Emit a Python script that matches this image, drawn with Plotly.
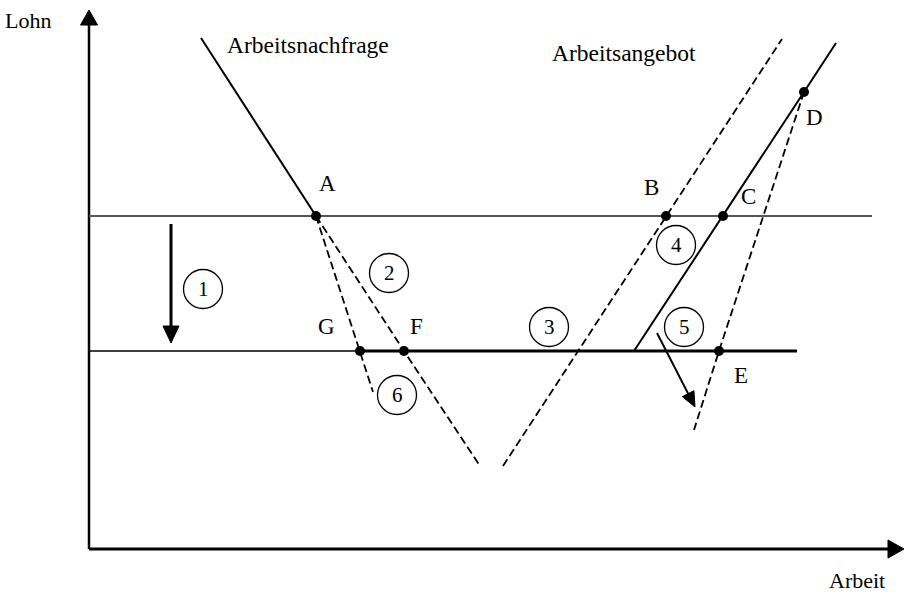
import numpy as np
import plotly.graph_objects as go

# ---------------- data (schematic units) ----------------
wage_high = 33.3          # upper wage level
wage_low = 19.8           # lower wage level
upper_line_end = 78.3
lower_line_end = 70.8

demand_solid_x = [11.2, 22.7]
demand_solid_y = [51.1, 33.3]
demand_shift_x = [22.7, 31.5, 39.1]     # A -> F -> end (dashed)
demand_shift_y = [33.3, 19.8, 8.3]
demand_steep_x = [22.7, 27.1, 28.4]     # A -> G -> end (dashed)
demand_steep_y = [33.3, 19.8, 15.7]

supply_left_x = [41.4, 57.7, 69.3]      # dashed, through B
supply_left_y = [8.3, 33.3, 51.0]
supply_solid_x = [54.5, 63.4, 71.5, 74.7]   # solid, through C and D
supply_solid_y = [19.8, 33.3, 45.7, 50.6]
supply_steep_x = [71.5, 63.0, 60.5]     # D -> E -> end (dashed)
supply_steep_y = [45.7, 19.8, 11.9]

point_names = ["A", "B", "C", "D", "E", "F", "G"]
point_x = [22.7, 57.7, 63.4, 71.5, 63.0, 31.5, 27.1]
point_y = [33.3, 33.3, 33.3, 45.7, 19.8, 19.8, 19.8]

circle_numbers = ["1", "2", "3", "4", "5", "6"]
circle_x = [11.4, 30.0, 46.0, 58.7, 59.5, 30.8]
circle_y = [26.0, 27.6, 22.2, 30.4, 22.2, 15.4]

curve_names = ["Arbeitsnachfrage", "Arbeitsangebot"]
axis_names = ["Lohn", "Arbeit"]
x_axis_end = 81.5
y_axis_end = 53.9

# arrows: (tail_x, tail_y, tip_x, tip_y)
arrow_one = [8.2, 32.5, 8.2, 20.6]
arrow_five = [56.8, 21.6, 60.6, 14.2]

# ---------------- styling ----------------
FONT = "Liberation Serif"
label_offsets = {"A": (1.1, 3.3), "B": (-1.5, 2.9), "C": (2.5, 2.0), "D": (1.0, -2.5),
                 "E": (2.2, -2.4), "F": (1.2, 2.5), "G": (-3.4, 2.5)}
DASH = "8px,4px"

fig = go.Figure()


def line(x, y, width=2, dash="solid", color="black"):
    fig.add_trace(go.Scatter(x=x, y=y, mode="lines",
                             line=dict(color=color, width=width, dash=dash),
                             hoverinfo="skip", showlegend=False))


def arrow(tail_x, tail_y, tip_x, tip_y, head_len, head_w, width):
    d = np.array([tip_x - tail_x, tip_y - tail_y], dtype=float)
    d /= np.linalg.norm(d)
    n = np.array([-d[1], d[0]])
    tip = np.array([tip_x, tip_y])
    base = tip - d * head_len
    line([tail_x, base[0]], [tail_y, base[1]], width=width)
    p1 = base + n * head_w / 2
    p2 = base - n * head_w / 2
    fig.add_trace(go.Scatter(x=[tip[0], p1[0], p2[0], tip[0]],
                             y=[tip[1], p1[1], p2[1], tip[1]],
                             mode="lines", fill="toself", fillcolor="black",
                             line=dict(color="black", width=1),
                             hoverinfo="skip", showlegend=False))


# axes with arrow heads
arrow(0, 0, 0, y_axis_end, 1.5, 1.7, 2.5)
arrow(0, 0, x_axis_end, 0, 1.6, 1.8, 3)

# wage lines
line([0, upper_line_end], [wage_high, wage_high], width=2, color="#555555")
line([0, point_x[6]], [wage_low, wage_low], width=1.5)
line([point_x[6], lower_line_end], [wage_low, wage_low], width=2.8)

# demand
line(demand_solid_x, demand_solid_y, width=2)
line(demand_shift_x, demand_shift_y, width=1.8, dash=DASH)
line(demand_steep_x, demand_steep_y, width=1.8, dash=DASH)

# supply
line(supply_left_x, supply_left_y, width=1.8, dash=DASH)
line(supply_solid_x, supply_solid_y, width=2)
line(supply_steep_x, supply_steep_y, width=1.8, dash=DASH)

# arrows 1 and 5
arrow(*arrow_one, 1.7, 1.6, 3)
arrow(*arrow_five, 1.5, 1.3, 2)

# points
fig.add_trace(go.Scatter(x=point_x, y=point_y, mode="markers",
                         marker=dict(color="black", size=10),
                         hoverinfo="skip", showlegend=False))

for name, px, py in zip(point_names, point_x, point_y):
    dx, dy = label_offsets[name]
    fig.add_annotation(x=px + dx, y=py + dy, text=name, showarrow=False,
                       font=dict(family=FONT, size=23, color="black"))

# circled numbers
R = 1.95
for num, cx, cy in zip(circle_numbers, circle_x, circle_y):
    fig.add_shape(type="circle", x0=cx - R, x1=cx + R, y0=cy - R, y1=cy + R,
                  line=dict(color="black", width=1.3))
    fig.add_annotation(x=cx, y=cy, text=num, showarrow=False,
                       font=dict(family=FONT, size=21, color="black"))

# curve and axis titles
fig.add_annotation(x=21.9, y=50.4, text=curve_names[0], showarrow=False,
                   font=dict(family=FONT, size=23.5, color="black"))
fig.add_annotation(x=53.5, y=49.6, text=curve_names[1], showarrow=False,
                   font=dict(family=FONT, size=23.5, color="black"))
fig.add_annotation(x=-6.1, y=52.9, text=axis_names[0], showarrow=False,
                   font=dict(family=FONT, size=22, color="black"))
fig.add_annotation(x=76.8, y=-4.6, yanchor="bottom", text=axis_names[1],
                   showarrow=False, font=dict(family=FONT, size=22, color="black"))

fig.update_layout(
    width=908, height=595,
    margin=dict(l=0, r=0, t=0, b=0),
    paper_bgcolor="white", plot_bgcolor="white",
    xaxis=dict(range=[-8.9, 81.9], visible=False, fixedrange=True),
    yaxis=dict(range=[-4.6, 54.9], visible=False, fixedrange=True),
)

# remove the default page margin so the figure fills the window exactly
fig.write_html("out.html",
               config={"displayModeBar": False, "staticPlot": True},
               post_script="document.body.style.margin='0';"
                           "document.body.style.overflow='hidden';")
